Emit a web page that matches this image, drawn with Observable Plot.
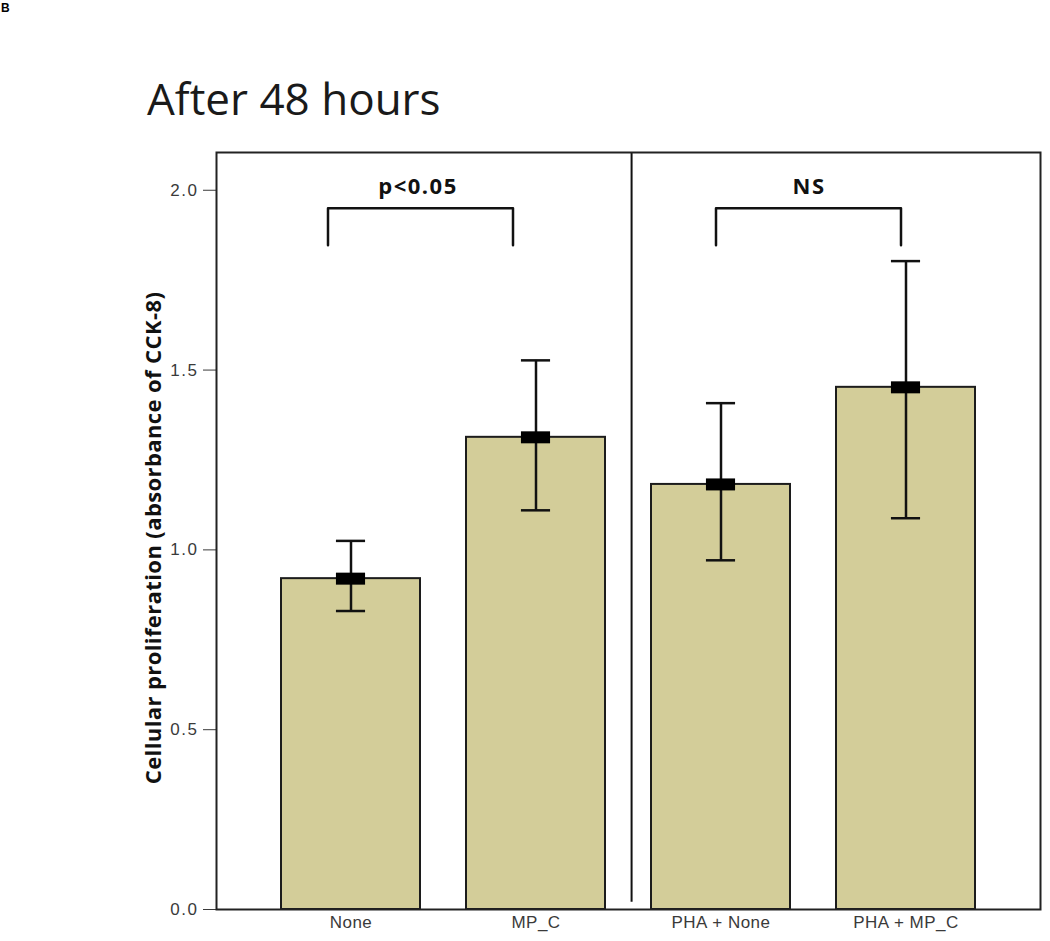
<!DOCTYPE html>
<html><head><meta charset="utf-8">
<script src="https://cdn.jsdelivr.net/npm/d3@7"></script>
<script src="https://cdn.jsdelivr.net/npm/@observablehq/plot@0.6"></script>
<style>
html,body{margin:0;padding:0;background:#fff;}
body{width:1050px;height:941px;overflow:hidden;position:relative;font-family:"Liberation Sans",Arial,sans-serif;}
#panel{position:absolute;left:1px;top:2px;font:bold 12px/12px "Liberation Sans",Arial,sans-serif;color:#000;}
#title{position:absolute;left:147px;top:76px;font:44px/44px "Open Sans",sans-serif;color:#1a1a1a;white-space:nowrap;}
#chart{position:absolute;left:0;top:130px;}
#chart svg{overflow:visible;}
#chart g[aria-label="y-axis tick label"] text{letter-spacing:1.5px;}
#chart g[aria-label="x-axis tick label"] text{letter-spacing:0.5px;}
#chart .sig text{letter-spacing:1.5px;}
#chart .ylab text{letter-spacing:0.4px;}
</style></head><body>
<div id="panel">B</div>
<div id="title">After 48 hours</div>
<div id="chart"></div>
<script>
// ---- data ----
const groups = ["None", "MP_C", "PHA + None", "PHA + MP_C"];
const means  = [0.92, 1.313, 1.182, 1.452];
const upper  = [1.025, 1.527, 1.408, 1.803];
const lower  = [0.83, 1.11, 0.971, 1.088];
const yTicks = [0, 0.5, 1.0, 1.5, 2.0];
const yMax = 2.105;
const yLabel = "Cellular proliferation (absorbance of CCK-8)";
const compLeft   = ["None", "PHA + None"];
const compRight  = ["MP_C", "PHA + MP_C"];
const compLabels = ["p<0.05", "NS"];
const bracketTop = 1.95, bracketLeg = 1.847, labelY = 2.01;
const dividerAfter = "MP_C";
const dividerBottom = 0.02;

// ---- build table ----
const data = groups.map((g, i) => ({group: g, mean: means[i], hi: upper[i], lo: lower[i]}));

// layout constants
const W = 1050, ML = 216, MR = 10;
const PI = 0.25, PO = 0.35;
const step = (W - ML - MR) / (groups.length - PI + 2 * PO);
const bw = step * (1 - PI);
const capInset = (bw - 29) / 2;
const markInset = (bw - 29) / 2;

function bracket(i) {
  return [
    {x: compLeft[i], y: bracketLeg},
    {x: compLeft[i], y: bracketTop},
    {x: compRight[i], y: bracketTop},
    {x: compRight[i], y: bracketLeg}
  ];
}
const bracketDx = [-23, -5];
const labelDx = [67, 88];

const marks = [
  Plot.barY(data, {x: "group", y: "mean", fill: "#d3cd99", stroke: "#1c1c1c", strokeWidth: 2}),
  Plot.ruleX(data, {x: "group", y1: "lo", y2: "hi", stroke: "#111", strokeWidth: 2.5}),
  Plot.tickY(data, {x: "group", y: "hi", stroke: "#111", strokeWidth: 2.5, insetLeft: capInset, insetRight: capInset}),
  Plot.tickY(data, {x: "group", y: "lo", stroke: "#111", strokeWidth: 2.5, insetLeft: capInset, insetRight: capInset}),
  Plot.tickY(data, {x: "group", y: "mean", stroke: "#000", strokeWidth: 12, insetLeft: markInset, insetRight: markInset}),
  Plot.ruleX([dividerAfter], {x: d => d, y1: dividerBottom, y2: yMax, dx: step / 2 + 3, stroke: "#111", strokeWidth: 2})
];
compLabels.forEach((lab, i) => {
  marks.push(Plot.line(bracket(i), {x: "x", y: "y", dx: bracketDx[i], stroke: "#111", strokeWidth: 2.5, curve: "linear"}));
  marks.push(Plot.text([lab], {x: () => compLeft[i], y: () => labelY, text: d => d, dx: labelDx[i],
    fontFamily: "Open Sans", fontWeight: "bold", fontSize: 22, fill: "#111", className: "sig"}));
});
marks.push(Plot.text([yLabel], {frameAnchor: "left", textAnchor: "middle", text: d => d, rotate: -90, dx: -63, dy: 7,
  fontFamily: "Open Sans", fontWeight: "bold", fontSize: 22, fill: "#111", className: "ylab"}));
marks.push(Plot.frame({stroke: "#222", strokeWidth: 2}));

const chart = Plot.plot({
  width: W, height: 811,
  marginLeft: ML, marginRight: MR, marginTop: 22, marginBottom: 32,
  style: {fontFamily: "'Liberation Sans', Arial, sans-serif", fontSize: "17px", color: "#3a3a3a", background: "#fff"},
  x: {domain: groups, paddingInner: PI, paddingOuter: PO, label: null, tickSize: 0, tickPadding: 6},
  y: {domain: [0, yMax], ticks: yTicks, tickFormat: d3.format(".1f"), label: null, tickSize: 13, tickPadding: 5},
  marks
});
document.getElementById("chart").appendChild(chart);
</script>
</body></html>
